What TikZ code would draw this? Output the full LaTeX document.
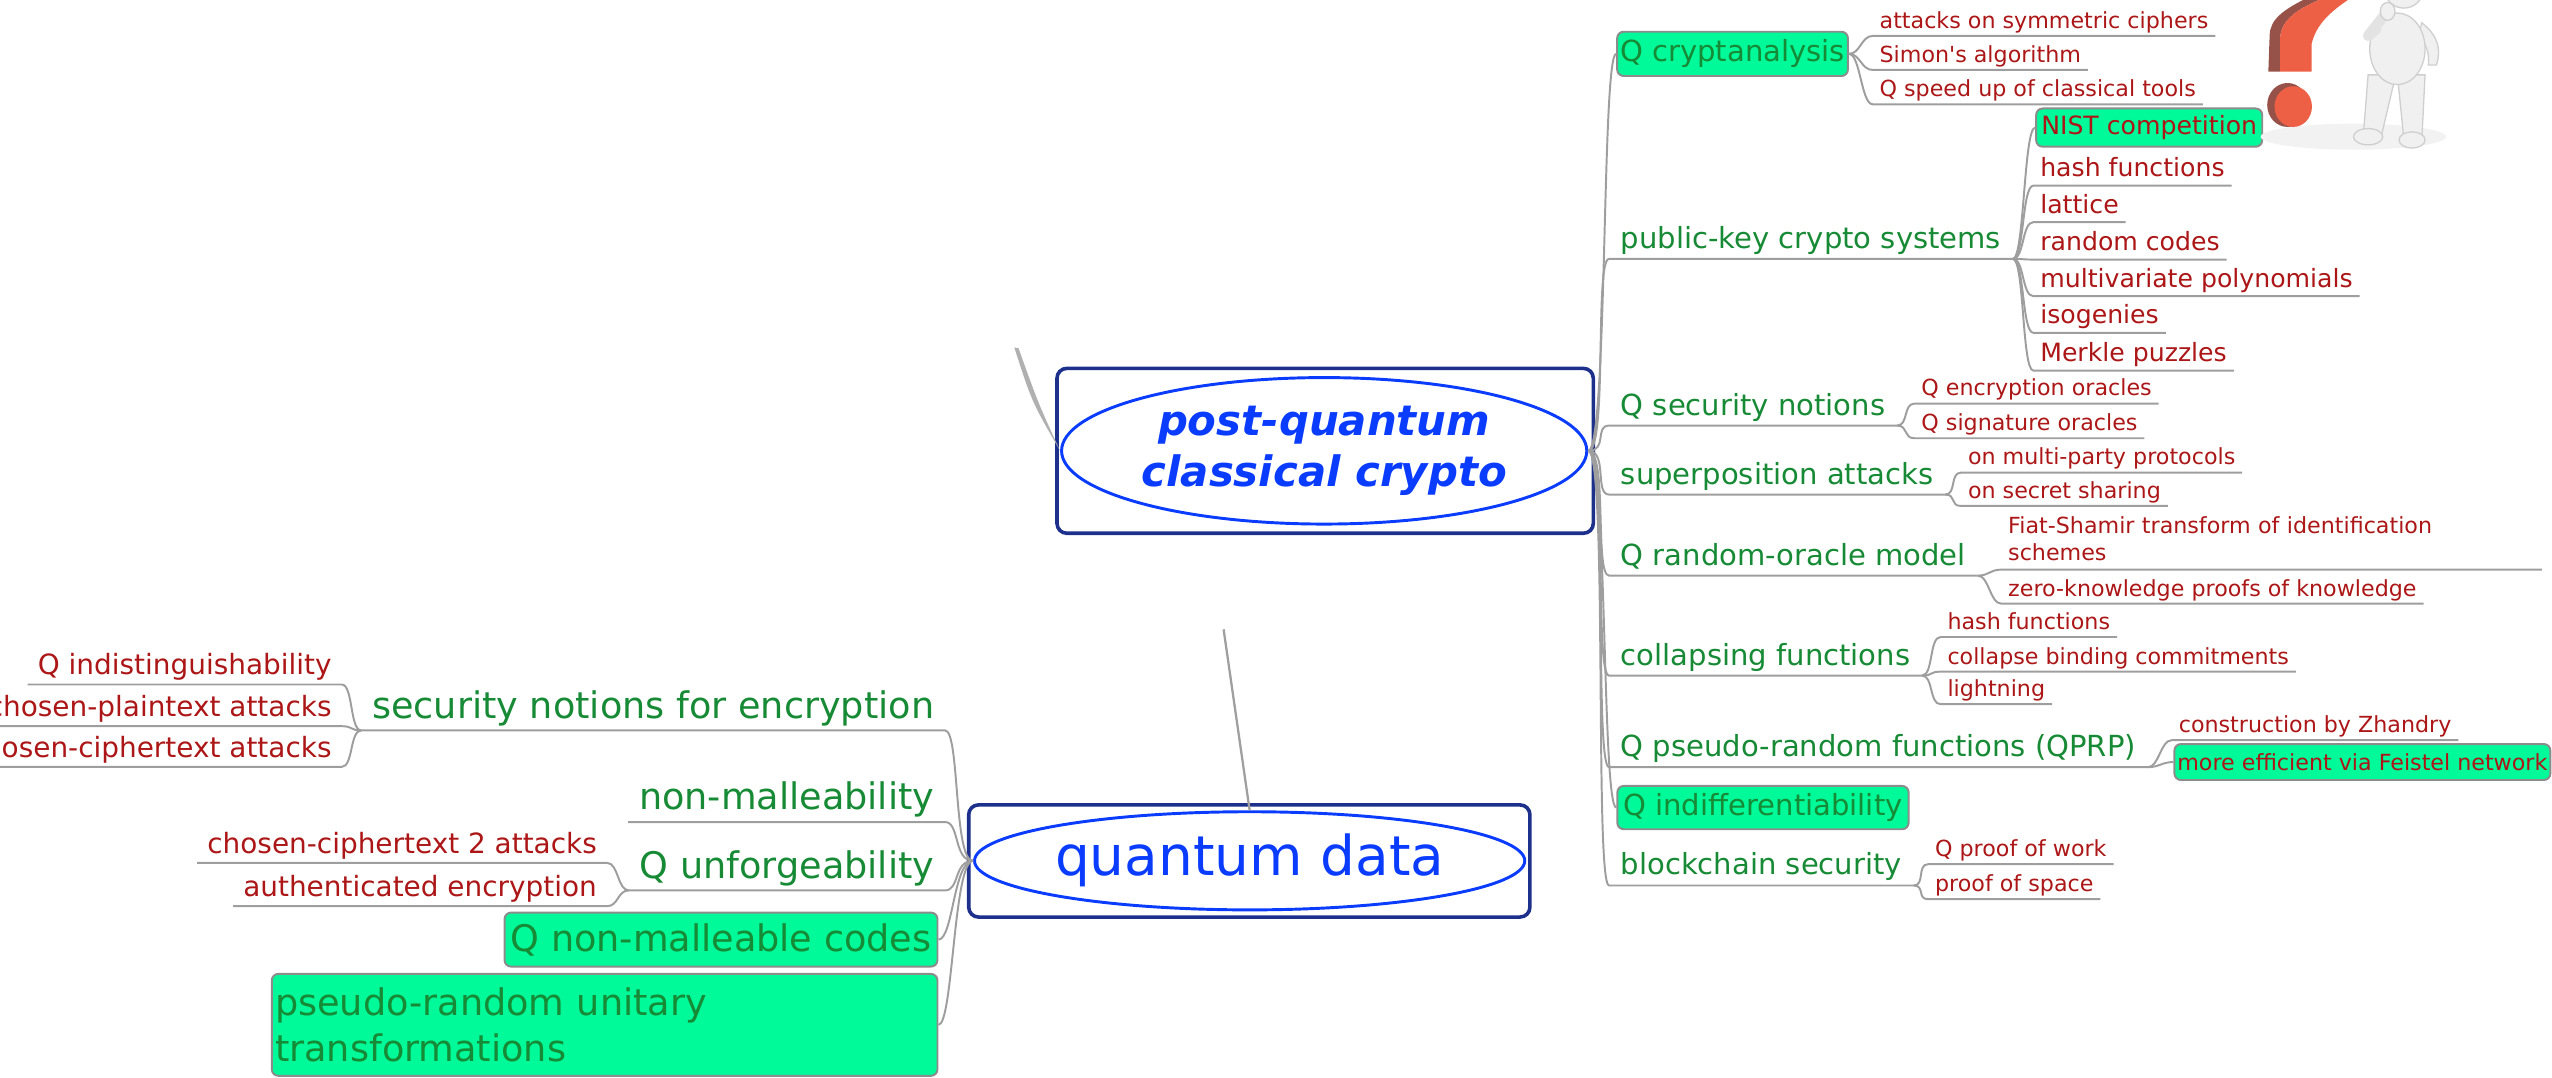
\documentclass[tikz,border=0pt]{standalone}
\usepackage{fontspec}
\setmainfont{DejaVu Sans}
\usetikzlibrary{shapes.geometric}
\definecolor{qgreen}{RGB}{22,138,52}
\definecolor{leafred}{RGB}{172,22,22}
\definecolor{mint}{RGB}{0,250,154}
\definecolor{boxgray}{RGB}{140,140,140}
\definecolor{linkgray}{RGB}{158,158,158}
\definecolor{rootblue}{RGB}{10,60,255}
\definecolor{navy}{RGB}{28,48,140}
\definecolor{qmark}{RGB}{238,96,70}
\definecolor{qmarkdark}{RGB}{150,82,72}
\newcommand{\px}{0.25mm}
\tikzset{
  twig/.style={draw=linkgray, line width=0.3mm},
  topicR/.style={anchor=base west, inner xsep=1.75mm, inner ysep=0pt, text depth=1.55mm,
    text=qgreen, font=\fontsize{12.7}{15}\selectfont},
  topicL/.style={anchor=base east, inner xsep=1.6mm, inner ysep=0pt, text depth=1.8mm,
    text=qgreen, font=\fontsize{16}{19}\selectfont},
  leafS/.style={anchor=base west, inner xsep=1mm, inner ysep=0pt, text depth=1.1mm,
    text=leafred, font=\fontsize{9.7}{12}\selectfont},
  leafM/.style={leafS, text depth=1.3mm, font=\fontsize{11}{13}\selectfont},
  leafL/.style={anchor=base east, inner xsep=1.5mm, inner ysep=0pt, text depth=1.4mm,
    text=leafred, font=\fontsize{12.2}{14}\selectfont},
  hilite/.style={draw=boxgray, fill=mint, rounded corners=1mm, line width=0.3mm, inner sep=0pt},
  rootframe/.style={draw=navy, rounded corners=1.5mm, line width=0.55mm, inner sep=0pt},
  rootoval/.style={ellipse, draw=rootblue, line width=0.45mm, inner sep=0pt,
    text=rootblue, align=center},
  manbody/.style={fill=gray!12, draw=gray!38, line width=0.2mm}
}

\begin{document}
\begin{tikzpicture}[x=\px, y=-\px]
  \useasboundingbox (0,0) rectangle (1568,662);
  \clip (0,0) rectangle (1568,662);

  % the two central topics
  \node[rootframe, minimum width=329.5*\px, minimum height=101.3*\px] (pq) at (814.2,277) {};
  \node[rootoval, minimum width=322.7*\px, minimum height=90*\px,
    font=\fontsize{18.3}{22.6}\selectfont\bfseries\itshape] (pqoval) at (813.6,277)
    {post-quantum\\classical crypto};
  \node[rootframe, minimum width=344.8*\px, minimum height=68.9*\px] (qd) at (767.6,529) {};
  \node[rootoval, minimum width=337.6*\px, minimum height=60.3*\px,
    font=\fontsize{24}{28}\selectfont] (qdoval) at (767.8,528.9) {quantum data};

  % loose relationship stubs
  \coordinate (pqtail) at (623.2,213.5);
  \coordinate (qdtail) at (751.8,386.7);
  \fill[gray!62] (pqoval.west) .. controls (638,248) .. (625.8,214)
    -- (pqtail) .. controls (634,247) .. (pqoval.west);
  \draw[draw=gray!75, line width=0.35mm] (qdoval.north) -- (qdtail);

  % right hand branches
  \node[hilite, minimum width=141.8*\px, minimum height=27.2*\px, text=qgreen,
    font=\fontsize{12.7}{15}\selectfont] (qca) at (1064.5,33.1) {Q cryptanalysis};
  \draw[twig] (pqoval.east) .. controls +(12,0) and +(-9,0) .. (qca.west);
  \foreach \nm/\y/\txt in {pk/152.6/public-key crypto systems, qsn/255/Q security notions,
      sup/297.4/superposition attacks, qro/347.2/Q random-oracle model,
      col/408.6/collapsing functions, qprf/464.9/{Q pseudo-random functions (QPRP)},
      bcs/537.6/blockchain security} {
    \node[topicR] (\nm) at (988.6,\y) {\txt};
    \draw[twig] (pqoval.east) .. controls +(12,0) and +(-9,0) .. (\nm.south west) -- (\nm.south east);
  }
  \node[hilite, minimum width=179*\px, minimum height=26.6*\px, text=qgreen,
    font=\fontsize{12.7}{15}\selectfont] (qindiff) at (1083.2,496.2) {Q indifferentiability};
  \draw[twig] (pqoval.east) .. controls +(12,0) and +(-9,0) .. (qindiff.west);

  \foreach \nm/\y/\txt in {sym/17.4/attacks on symmetric ciphers,
      simon/38.3/Simon\textquotesingle s algorithm, speed/59.4/Q speed up of classical tools} {
    \node[leafS] (\nm) at (1150.6,\y) {\txt};
    \draw[twig] (qca.east) .. controls +(7,0) and +(-7,0) .. (\nm.south west) -- (\nm.south east);
  }

  \node[hilite, minimum width=138.9*\px, minimum height=23.5*\px, text=leafred,
    font=\fontsize{11}{13}\selectfont] (nist) at (1320.5,78.4) {NIST competition};
  \draw[twig] (pk.south east) .. controls +(7,0) and +(-7,0) .. (nist.west);
  \foreach \nm/\y/\txt in {hashpk/108.6/hash functions, lat/131/lattice, rcodes/154/random codes,
      mvp/176.5/multivariate polynomials, iso/199/isogenies, merkle/222.2/Merkle puzzles} {
    \node[leafM] (\nm) at (1249.3,\y) {\txt};
    \draw[twig] (pk.south east) .. controls +(7,0) and +(-7,0) .. (\nm.south west) -- (\nm.south east);
  }

  \foreach \up/\x/\nm/\y/\txt in {qsn/1176.3/qenc/243.3/Q encryption oracles,
      qsn/1176.3/qsig/264.6/Q signature oracles,
      sup/1204.9/mpc/285.7/on multi-party protocols,
      sup/1204.9/secsh/306.2/on secret sharing,
      qro/1229.6/zkp/366.2/zero-knowledge proofs of knowledge,
      col/1192.3/hashcol/386.7/hash functions,
      col/1192.3/cbc/408/collapse binding commitments,
      col/1192.3/light/428/lightning,
      qprf/1334.4/zhandry/450.1/construction by Zhandry,
      bcs/1184.7/pow/526.3/Q proof of work,
      bcs/1184.7/pos/547.8/proof of space} {
    \node[leafS] (\nm) at (\x,\y) {\txt};
    \draw[twig] (\up.south east) .. controls +(7,0) and +(-7,0) .. (\nm.south west) -- (\nm.south east);
  }
  % two-line leaf: depth counts from the first baseline
  \node[leafS, text depth=5.5mm, text width=323.6*\px, align=left] (fiat) at (1229.6,327.7)
    {Fiat-Shamir transform of identification\\schemes};
  \draw[twig] (qro.south east) .. controls +(7,0) and +(-7,0) .. (fiat.south west) -- (fiat.south east);
  \node[hilite, minimum width=231*\px, minimum height=22.1*\px, text=leafred,
    font=\fontsize{9.7}{12}\selectfont] (feistel) at (1451.5,468.2) {more efficient via Feistel network};
  \draw[twig] (qprf.south east) .. controls +(7,0) and +(-7,0) .. (feistel.west);

  % left hand branches
  \foreach \nm/\y/\txt in {sne/441.3/security notions for encryption,
      nonmal/497.6/non-malleability, unf/539.6/Q unforgeability} {
    \node[topicL] (\nm) at (580.7,\y) {\txt};
    \draw[twig] (qdoval.west) .. controls +(-12,0) and +(9,0) .. (\nm.south east) -- (\nm.south west);
  }
  \node[hilite, minimum width=266*\px, minimum height=33.2*\px, text=qgreen,
    font=\fontsize{16}{19}\selectfont] (qnmc) at (443,577.3) {Q non-malleable codes};
  \draw[twig] (qdoval.west) .. controls +(-12,0) and +(9,0) .. (qnmc.east);
  \node[hilite, minimum width=409*\px, minimum height=62.6*\px, inner xsep=0.5mm,
    text width=405*\px, align=left, text=qgreen, font=\fontsize{16}{20.3}\selectfont]
    (pru) at (371.5,629.7) {pseudo-random unitary\\transformations};
  \draw[twig] (qdoval.west) .. controls +(-12,0) and +(9,0) .. (pru.east);

  \foreach \up/\x/\nm/\y/\txt in {sne/210/qindist/414.7/Q indistinguishability,
      sne/210/cpa/440.3/chosen-plaintext attacks,
      sne/210/cca/465.3/chosen-ciphertext attacks,
      unf/373/cca2/524.3/chosen-ciphertext 2 attacks,
      unf/373/authenc/550.9/authenticated encryption} {
    \node[leafL] (\nm) at (\x,\y) {\txt};
    \draw[twig] (\up.south west) .. controls +(-7,0) and +(7,0) .. (\nm.south east) -- (\nm.south west);
  }

  % thinking man with question mark
  \fill[gray!10] (1446,84) ellipse [x radius=57, y radius=8];
  \fill[qmarkdark] (1393.7,44) -- (1401,44) -- (1401,22.5) .. controls (1402,12) and (1412,5) .. (1427.5,-1)
    -- (1417,-1) .. controls (1403,6) and (1394.5,12) .. (1394.5,22) -- cycle;
  \fill[qmark] (1401,44) -- (1420.3,44) -- (1420.3,27) .. controls (1423,15) and (1432,7) .. (1444,-1)
    -- (1427.5,-1) .. controls (1412,5) and (1402,12) .. (1401,22.5) -- cycle;
  \fill[qmarkdark] (1405.5,64.5) ellipse [x radius=12.5, y radius=13.5];
  \fill[qmark] (1409,65.5) ellipse [x radius=11.5, y radius=12.5];
  \filldraw[manbody] (1455,46) -- (1472,46) -- (1463,84) -- (1452,84) -- cycle;
  \filldraw[manbody] (1473,46) -- (1490,46) -- (1488,86) -- (1477,86) -- cycle;
  \filldraw[manbody] (1455,84) ellipse [x radius=9, y radius=5];
  \filldraw[manbody] (1482,86) ellipse [x radius=8, y radius=5];
  \filldraw[manbody] (1488,14) .. controls (1498,22) and (1500,30) .. (1497,40) -- (1492,40)
    .. controls (1493,32) and (1490,26) .. (1486,22) -- cycle;
  \filldraw[manbody] (1473,30) ellipse [x radius=17, y radius=22];
  \draw[gray!22, line width=1.6mm, line cap=round, line join=round] (1460,18) -- (1455,22) -- (1466,8);
  \filldraw[manbody] (1467,7) ellipse [x radius=4.5, y radius=5.5];
  \filldraw[manbody] (1477,-7) circle [radius=12];
\end{tikzpicture}
\end{document}
